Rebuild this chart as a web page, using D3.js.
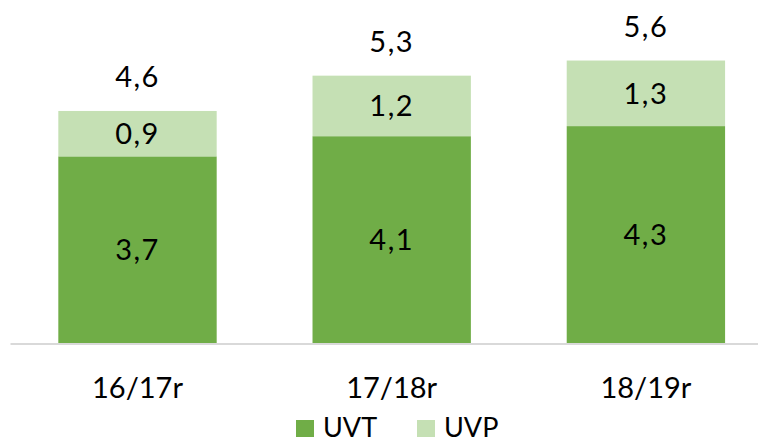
<!DOCTYPE html>
<html>
<head>
<meta charset="utf-8">
<script src="https://cdn.jsdelivr.net/npm/d3@7"></script>
<style>
  html, body { margin: 0; padding: 0; background: #fff; }
  svg { display: block; }
  text { font-family: Lato, "Open Sans", sans-serif; fill: #000; }
</style>
</head>
<body>
<svg id="chart" width="758" height="442"></svg>
<script>
const categories = ["16/17r", "17/18r", "18/19r"];
const seriesNames = ["UVT", "UVP"];
const uvt = [3.7, 4.1, 4.3];
const uvp = [0.9, 1.2, 1.3];
const totals = [4.6, 5.3, 5.6];
const colors = ["#70AD47", "#C5E0B4"];

const fmt = v => d3.format(".1f")(v).replace(".", ",");

const svg = d3.select("#chart");
const W = 758, H = 442;

const x = d3.scaleBand()
  .domain(categories)
  .range([10.4, 773])
  .paddingInner(0.377)
  .paddingOuter(0.1885);

const y = d3.scaleLinear().domain([0, 6.8]).range([343, 0]);

const rows = categories.map((c, i) => ({ cat: c, UVT: uvt[i], UVP: uvp[i], total: totals[i] }));
const stack = d3.stack().keys(seriesNames)(rows);

const g = svg.append("g");

stack.forEach((layer, li) => {
  g.append("g").selectAll("rect")
    .data(layer)
    .join("rect")
    .attr("x", d => x(d.data.cat))
    .attr("width", x.bandwidth())
    .attr("y", d => y(d[1]))
    .attr("height", d => y(d[0]) - y(d[1]))
    .attr("fill", colors[li]);

  g.append("g").selectAll("text")
    .data(layer)
    .join("text")
    .attr("x", d => x(d.data.cat) + x.bandwidth() / 2)
    .attr("y", d => (y(d[0]) + y(d[1])) / 2)
    .attr("dy", "0.36em")
    .attr("text-anchor", "middle")
    .attr("font-size", 29)
    .attr("letter-spacing", 1.5)
    .text(d => fmt(d.data[seriesNames[li]]));
});

// totals
g.append("g").selectAll("text")
  .data(rows)
  .join("text")
  .attr("x", d => x(d.cat) + x.bandwidth() / 2)
  .attr("y", d => y(d.total) - 24)
  .attr("text-anchor", "middle")
  .attr("font-size", 29)
  .attr("letter-spacing", 1.5)
  .text(d => fmt(d.total));

// x axis
const xAxis = d3.axisBottom(x).tickSize(0).tickPadding(0);
const ax = svg.append("g").attr("transform", "translate(0,344)").call(xAxis);
ax.select(".domain").remove();
ax.append("line")
  .attr("x1", 10.5).attr("x2", W)
  .attr("y1", 0).attr("y2", 0)
  .attr("stroke", "#D9D9D9").attr("stroke-width", 2);
ax.selectAll(".tick text")
  .attr("y", 0)
  .attr("dy", 54)
  .attr("font-size", 29)
  .attr("font-family", "Lato, sans-serif")
  .attr("fill", "#000");

// legend
const legendX = [296, 417];
const leg = svg.append("g");
seriesNames.forEach((s, i) => {
  leg.append("rect")
    .attr("x", legendX[i]).attr("y", 420)
    .attr("width", 18).attr("height", 17)
    .attr("fill", colors[i]);
  leg.append("text")
    .attr("x", legendX[i] + 27).attr("y", 437)
    .attr("font-size", 27)
    .text(s);
});
</script>
</body>
</html>
